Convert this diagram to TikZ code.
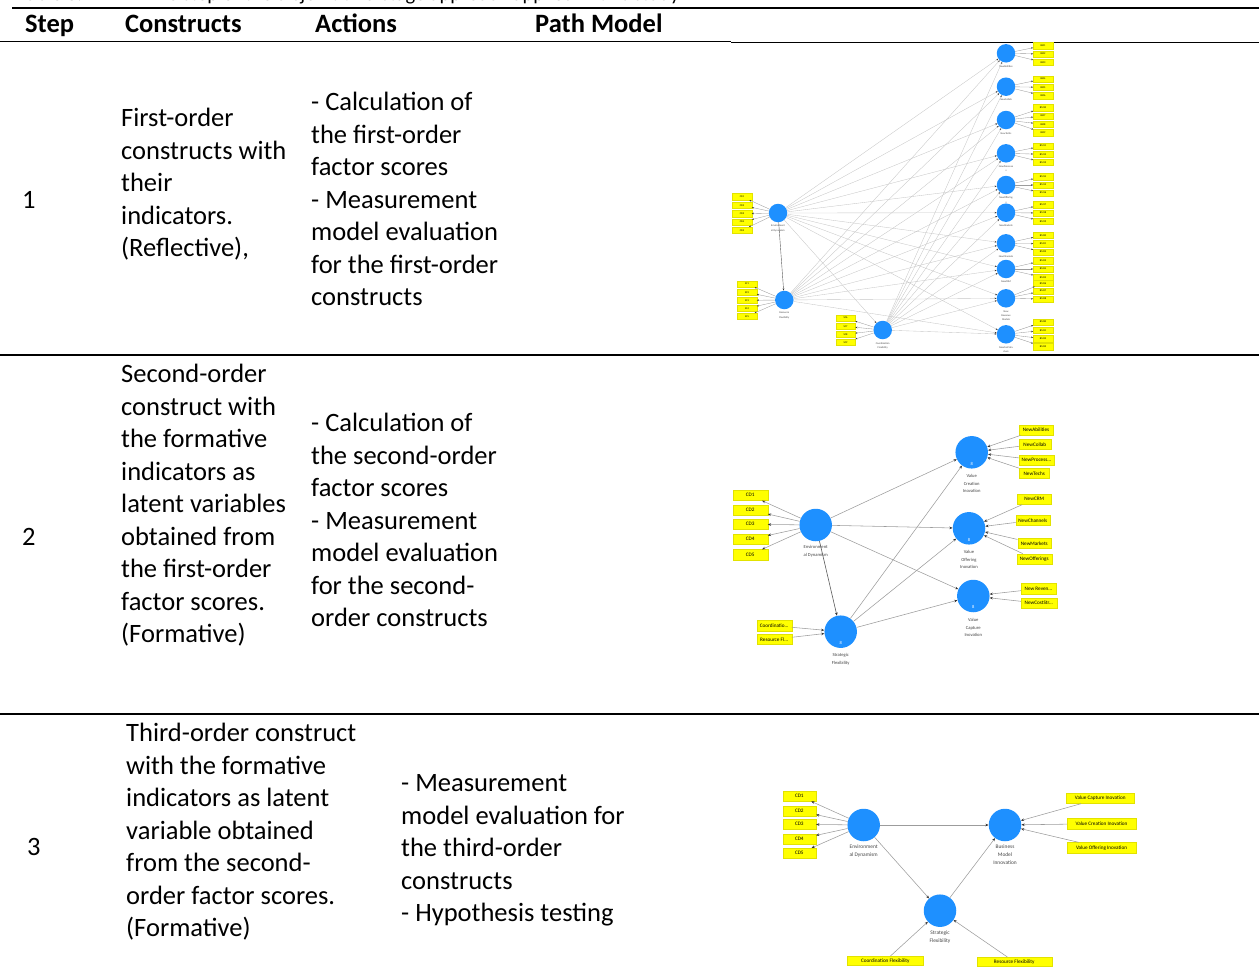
\documentclass[tikz,border=0pt]{standalone}
\usepackage{fontspec}
\setmainfont{Carlito}
\usetikzlibrary{arrows.meta}
\definecolor{lv}{HTML}{1E90FF}
\definecolor{ind}{HTML}{FFFF00}
\definecolor{indb}{HTML}{E2E200}
\definecolor{fan}{HTML}{C6C6C6}
\definecolor{edge}{HTML}{9C9C9C}
\definecolor{tipc}{HTML}{333333}
\definecolor{labc}{HTML}{444444}
\newcommand\trdots{...}
\tikzset{
  cell/.style={anchor=base west, inner sep=0pt, font=\fontsize{26.5}{32.5}\selectfont},
  headcell/.style={anchor=base west, inner sep=0pt, font=\fontsize{26.5}{32.5}\selectfont\bfseries},
  captext/.style={anchor=base west, inner sep=0pt, font=\fontsize{20.5}{24}\selectfont},
  rulethick/.style={line width=1.6pt, black},
  rulethin/.style={line width=1.1pt, black},
  lvS/.style={circle, fill=lv, inner sep=0pt, minimum size=18.5pt},
  lvL/.style={circle, fill=lv, inner sep=0pt, minimum size=32.5pt},
  indS/.style={fill=ind, draw=indb, line width=0.2pt, inner sep=0pt, minimum width=19.5pt, minimum height=6.4pt, font=\fontsize{2.6}{3}\selectfont},
  indL/.style={fill=ind, draw=indb, line width=0.3pt, inner sep=0pt, minimum height=10.5pt, font=\fontsize{5.2}{6}\selectfont},
  labS/.style={inner sep=0pt, align=center, text=labc, font=\fontsize{2.6}{4.3}\selectfont},
  labM/.style={inner sep=0pt, align=center, text=labc, font=\fontsize{4.6}{7.7}\selectfont},
  labL/.style={inner sep=0pt, align=center, text=labc, font=\fontsize{5.4}{7.7}\selectfont},
  beta/.style={inner sep=0pt, text=white, font=\fontsize{4.5}{5}\selectfont},
  fanS/.style={draw=fan, line width=0.35pt, -{Stealth[length=2pt,width=1.6pt,color=tipc]}},
  indlineS/.style={draw=edge, line width=0.35pt, -{Stealth[length=2pt,width=1.6pt,color=tipc]}},
  edgeL/.style={draw=edge, line width=0.55pt, -{Stealth[length=3.2pt,width=2.6pt,color=tipc]}},
  darkS/.style={draw=gray!70!black, line width=0.4pt, -{Stealth[length=2.2pt,width=1.8pt,color=tipc]}},
  darkL/.style={draw=gray!70!black, line width=0.6pt, -{Stealth[length=3.2pt,width=2.6pt,color=tipc]}},
}
\begin{document}
\begin{tikzpicture}[x=1pt,y=-1pt]
\useasboundingbox (0,0) rectangle (1259,972);

% caption, cut off by the top edge as in the reference
\node[captext] (captag) at (18,0.8) {Table 3.};
\node[captext] (caption) at (147,0.8) {The step of the disjoint two-stage approach applied in this study};

% rules
\coordinate (t0) at (12,8); \coordinate (t1) at (1259,8);
\draw[rulethick] (t0) -- (t1);
\coordinate (h0) at (0,41.5); \coordinate (h1) at (731,41.5);
\coordinate (h2) at (731,42.5); \coordinate (h3) at (1259,42.5);
\draw[rulethick] (h0) -- (h1);
\draw[rulethin] (h2) -- (h3);
\coordinate (s0) at (0,355); \coordinate (s1) at (1259,355);
\draw[rulethick] (s0) -- (s1);
\coordinate (u0) at (0,714); \coordinate (u1) at (1259,714);
\draw[rulethin] (u0) -- (u1);

% header
\node[headcell] (hstep) at (25,32) {Step};
\node[headcell] (hcons) at (125,32) {Constructs};
\node[headcell] (hact) at (315,32) {Actions};
\node[headcell] (hpath) at (535,32) {Path Model};

% row 1 text
\node[cell] (n1) at (22,208.5) {1};
\foreach \t [count=\i] in {First-order, constructs with, their, indicators., {(Reflective),}}
  \node[cell] (ca\i) at (121,{126.5+32.5*(\i-1)}) {\t};
\foreach \t [count=\i] in {- Calculation of, the first-order, factor scores, - Measurement, model evaluation, for the first-order, constructs}
  \node[cell] (aa\i) at (311,{110.5+32.5*(\i-1)}) {\t};

% row 2 text
\node[cell] (n2) at (22,545.5) {2};
\foreach \t [count=\i] in {Second-order, construct with, the formative, indicators as, latent variables, obtained from, the first-order, factor scores., (Formative)}
  \node[cell] (cb\i) at (121,{382.5+32.5*(\i-1)}) {\t};
\foreach \t [count=\i] in {- Calculation of, the second-order, factor scores, - Measurement, model evaluation, for the second-, order constructs}
  \node[cell] (ab\i) at (311,{431.5+32.5*(\i-1)}) {\t};

% row 3 text
\node[cell] (n3) at (27,855.5) {3};
\foreach \t [count=\i] in {Third-order construct, with the formative, indicators as latent, variable obtained, from the second-, order factor scores., (Formative)}
  \node[cell] (cc\i) at (126,{741.5+32.5*(\i-1)}) {\t};
\foreach \t [count=\i] in {- Measurement, model evaluation for, the third-order, constructs, - Hypothesis testing}
  \node[cell] (ac\i) at (401,{791.5+32.5*(\i-1)}) {\t};

%% ---------------- Path model 1 ----------------
\node[lvS] (r1e) at (778,213) {};
\node[lvS] (r1r) at (784.3,300) {};
\node[lvS] (r1c) at (882.7,330) {};
\node[labS, anchor=north] (r1el) at (778,225) {Environment\\al Dynamism};
\node[labS, anchor=north] (r1rl) at (784.3,312) {Resource\\Flexibility};
\node[labS, anchor=north] (r1cl) at (882.7,342) {Coordination\\Flexibility};

\foreach \k/\y/\lab in {1/53.3/NewAbilities, 2/86.7/NewCollab, 3/120/NewTechs, 4/153.3/NewProcesse\\s, 5/185/NewOffering\\s, 6/212.7/NewMarkets, 7/243.3/NewChannels, 8/269/NewCRM, 9/298.3/New\\Revenue\\Models, 10/334.3/NewCostStru\\cture} {
  \node[lvS] (r1n\k) at (1006,\y) {};
  \node[labS, anchor=north] (r1nl\k) at (1006,\y+12) {\lab};
}

\foreach \s in {r1e,r1r,r1c} {
  \foreach \t in {1,...,10} {
    \draw[fanS] (\s) -- (r1n\t);
  }
}
\draw[darkS] (r1e) -- (r1r);
\draw[fanS] (r1e) -- (r1c);

\foreach \lab/\y in {CD1/196.7, CD2/205.3, CD3/213.7, CD4/222, CD5/230.3} {
  \node[indS] (r1b\lab) at (742,\y) {\lab};
  \draw[indlineS] (r1e) -- (r1b\lab);
}
\foreach \lab/\y in {SF1/284, SF2/292.3, SF3/300.3, SF4/308.3, SF5/316.3} {
  \node[indS] (r1b\lab) at (747,\y) {\lab};
  \draw[indlineS] (r1r) -- (r1b\lab);
}
\foreach \lab/\y in {SF6/318, SF7/326.3, SF8/334.3, SF9/342.3} {
  \node[indS] (r1b\lab) at (845.5,\y) {\lab};
  \draw[indlineS] (r1c) -- (r1b\lab);
}
\foreach \k/\lab/\y in {1/BM1/45.7, 1/BM2/54, 1/BM3/62.3,
  2/BM4/79, 2/BM5/87.3, 2/BM6/95.7,
  3/BM10/107.7, 3/BM7/116, 3/BM8/124.3, 3/BM9/132.7,
  4/BM11/146, 4/BM12/154.3, 4/BM13/162.3,
  5/BM14/176.7, 5/BM15/185, 5/BM16/193,
  6/BM17/204.7, 6/BM18/213, 6/BM19/221.3,
  7/BM20/235.3, 7/BM21/243.7, 7/BM22/252,
  8/BM23/260.7, 8/BM24/269, 8/BM25/277.3,
  9/BM26/283.3, 9/BM27/291, 9/BM28/299,
  10/BM30/322, 10/BM31/330.3, 10/BM32/338.7, 10/BM33/346.7} {
  \node[indS] (r1b\lab) at (1043,\y) {\lab};
  \draw[indlineS] (r1n\k) -- (r1b\lab);
}

%% ---------------- Path model 2 ----------------
\node[lvL] (r2e) at (815.7,525) {};
\node[lvL] (r2s) at (840.7,631.7) {};
\node[lvL] (r2vc) at (971.7,452.3) {};
\node[lvL] (r2vo) at (969,528.3) {};
\node[lvL] (r2vp) at (973.3,596) {};
\node[beta] (r2sb) at (840.7,642.5) {8};
\node[beta] (r2vcb) at (971.7,463.5) {8};
\node[beta] (r2vob) at (969,539.5) {8};
\node[beta] (r2vpb) at (973.3,607) {8};
\node[labM, anchor=north] (r2el) at (815.7,545.5) {Environment\\al Dynamism};
\node[labM, anchor=north] (r2sl) at (840.7,653.5) {Strategic\\Flexibility};
\node[labM, anchor=north] (r2vcl) at (971.7,474) {Value\\Creation\\Inovation};
\node[labM, anchor=north] (r2vol) at (969,550) {Value\\Offering\\Inovation};
\node[labM, anchor=north] (r2vpl) at (973.3,618) {Value\\Capture\\Inovation};

\draw[edgeL] (r2e) -- (r2vc);
\draw[edgeL] (r2e) -- (r2vo);
\draw[edgeL] (r2e) -- (r2vp);
\draw[darkL] (r2e) -- (r2s);
\draw[edgeL] (r2s) -- (r2vc);
\draw[edgeL] (r2s) -- (r2vo);
\draw[edgeL] (r2s) -- (r2vp);

\foreach \lab/\y in {CD1/495.3, CD2/510, CD3/524.3, CD4/539.3, CD5/554.7} {
  \node[indL, minimum width=35pt] (r2b\lab) at (750.2,\y) {\lab};
  \draw[edgeL] (r2e) -- (r2b\lab);
}
\node[indL, minimum width=35pt] (r2bcf) at (774.2,625.7) {Coordinatio\trdots};
\node[indL, minimum width=35pt] (r2brf) at (774.2,639.3) {Resource Fl\trdots};
\draw[edgeL] (r2bcf) -- (r2s);
\draw[edgeL] (r2brf) -- (r2s);

\foreach \k/\t/\x/\y/\w [count=\j] in {vc/NewAbilities/1036/430/34, vc/NewCollab/1034.8/444.3/31.7, vc/NewProcess\trdots/1036.5/460/35, vc/NewTechs/1034.2/473.3/30.3,
  vo/NewCRM/1034.2/499.3/33.7, vo/NewChannels/1032.8/520.3/34.3, vo/NewMarkets/1034.3/543.3/33.3, vo/NewOfferings/1034.2/559/35,
  vp/New Reven\trdots/1038.5/588.7/35, vp/NewCostStr\trdots/1038.8/603.3/35.7} {
  \node[indL, minimum width=\w pt] (r2r\j) at (\x,\y) {\t};
  \draw[edgeL] (r2r\j) -- (r2\k);
}

%% ---------------- Path model 3 ----------------
\node[lvL] (r3e) at (863.7,825) {};
\node[lvL] (r3s) at (940,910.7) {};
\node[lvL] (r3b) at (1005,825) {};
\node[labL, anchor=north] (r3el) at (863.7,845) {Environment\\al Dynamism};
\node[labL, anchor=north] (r3sl) at (940,930.8) {Strategic\\Flexibility};
\node[labL, anchor=north] (r3bl) at (1005,844.8) {Business\\Model\\Innovation};

\draw[edgeL] (r3e) -- (r3b);
\draw[edgeL] (r3e) -- (r3s);
\draw[edgeL] (r3s) -- (r3b);

\foreach \lab/\y in {CD1/796, CD2/811, CD3/824.3, CD4/839, CD5/853.3} {
  \node[indL, minimum width=33.3pt] (r3b\lab) at (799.3,\y) {\lab};
  \draw[edgeL] (r3e) -- (r3b\lab);
}
\node[indL, minimum width=76pt, minimum height=9pt] (r3bcf) at (885.3,960.7) {Coordination Flexibility};
\node[indL, minimum width=75pt, minimum height=9pt] (r3brf) at (1014.2,961.7) {Resource Flexibility};
\draw[edgeL] (r3bcf) -- (r3s);
\draw[edgeL] (r3brf) -- (r3s);

\node[indL, minimum width=68.3pt] (r3bvp) at (1100.2,798.3) {Value Capture Inovation};
\node[indL, minimum width=69pt] (r3bvc) at (1101.5,823.7) {Value Creation Inovation};
\node[indL, minimum width=69pt] (r3bvo) at (1101.5,847.7) {Value Offering Inovation};
\draw[edgeL] (r3bvp) -- (r3b);
\draw[edgeL] (r3bvc) -- (r3b);
\draw[edgeL] (r3bvo) -- (r3b);
\end{tikzpicture}
\end{document}
